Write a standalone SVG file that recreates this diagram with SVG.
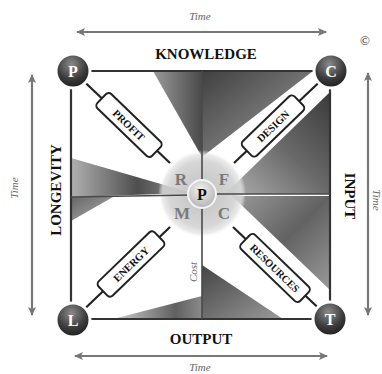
<svg xmlns="http://www.w3.org/2000/svg" width="382" height="374" viewBox="0 0 382 374">
<style>
.t{font-family:"Liberation Serif","DejaVu Serif",serif;font-weight:bold;fill:#111;text-anchor:middle}
.time{font-family:"Liberation Serif","DejaVu Serif",serif;font-style:italic;font-size:11px;fill:#666;text-anchor:middle}
.lbl{font-family:"Liberation Serif","DejaVu Serif",serif;font-weight:bold;font-size:10.5px;fill:#111;text-anchor:middle}
.box{fill:#fff;stroke:#222;stroke-width:2}
.corner{fill:url(#gCorner);stroke:#fff;stroke-width:3}
.cl{font-family:"Liberation Serif","DejaVu Serif",serif;font-weight:bold;font-size:16px;fill:#fff;text-anchor:middle}
.sec{font-family:"Liberation Serif","DejaVu Serif",serif;font-weight:bold;font-size:17px;fill:#7a7a7a;text-anchor:middle}
.edge{stroke:#333;stroke-width:2.2;fill:none}
.mid{stroke:#4a4a4a;stroke-width:1.6;fill:none}
.diag{stroke:#222;stroke-width:2.2;fill:none}
.arr{stroke:#777;stroke-width:2.2;fill:none;marker-start:url(#ah);marker-end:url(#ah)}
</style>
<defs>
<marker id="ah" markerUnits="userSpaceOnUse" markerWidth="10" markerHeight="10" refX="8" refY="5" orient="auto-start-reverse">
<path d="M0,1 L9,5 L0,9 L2,5 Z" fill="#777"/>
</marker>
<linearGradient id="gTop" x1="0" y1="0" x2="1" y2="0"><stop offset="0" stop-color="#9a9a9a"/><stop offset="1" stop-color="#4a4a4a"/></linearGradient>
<linearGradient id="gTR" x1="0" y1="0" x2="1" y2="1"><stop offset="0" stop-color="#404040"/><stop offset="0.6" stop-color="#7a7a7a"/><stop offset="1" stop-color="#a8a8a8"/></linearGradient>
<linearGradient id="gRU" x1="1" y1="0" x2="0" y2="1"><stop offset="0" stop-color="#3a3a3a"/><stop offset="0.5" stop-color="#6a6a6a"/><stop offset="1" stop-color="#b0b0b0"/></linearGradient>
<linearGradient id="gRL" x1="0" y1="0" x2="1" y2="1"><stop offset="0" stop-color="#9a9a9a"/><stop offset="0.5" stop-color="#626262"/><stop offset="1" stop-color="#9a9a9a"/></linearGradient>
<linearGradient id="gBR" x1="0" y1="0" x2="1" y2="1"><stop offset="0" stop-color="#444"/><stop offset="1" stop-color="#9a9a9a"/></linearGradient>
<linearGradient id="gBL" x1="0" y1="0" x2="1" y2="0"><stop offset="0" stop-color="#d0d0d0"/><stop offset="0.7" stop-color="#606060"/><stop offset="1" stop-color="#8a8a8a"/></linearGradient>
<linearGradient id="gLU" x1="0" y1="0" x2="1" y2="0"><stop offset="0" stop-color="#b0b0b0"/><stop offset="0.55" stop-color="#4e4e4e"/><stop offset="1" stop-color="#9a9a9a"/></linearGradient>
<linearGradient id="gLL" x1="0" y1="0" x2="1" y2="1"><stop offset="0" stop-color="#666"/><stop offset="1" stop-color="#b0b0b0"/></linearGradient>
<radialGradient id="gCorner" cx="0.45" cy="0.3" r="0.75"><stop offset="0" stop-color="#8a8a8a"/><stop offset="0.6" stop-color="#3a3a3a"/><stop offset="1" stop-color="#1a1a1a"/></radialGradient>
<radialGradient id="gHalo" cx="0.5" cy="0.5" r="0.5"><stop offset="0" stop-color="#bcbcbc" stop-opacity="0.95"/><stop offset="0.75" stop-color="#d2d2d2" stop-opacity="0.9"/><stop offset="0.9" stop-color="#e4e4e4" stop-opacity="0.75"/><stop offset="1" stop-color="#ffffff" stop-opacity="0"/></radialGradient>
<radialGradient id="gCenter" cx="0.45" cy="0.35" r="0.7"><stop offset="0" stop-color="#f2f2f2"/><stop offset="1" stop-color="#b0b0b0"/></radialGradient>
</defs>
<rect width="382" height="374" fill="#fff"/>

<g id="shading">
<polygon points="153,71 202,71 202,157" fill="url(#gTop)"/>
<polygon points="202,71 313,71 202,157" fill="url(#gTR)"/>
<polygon points="330,92 330,194 225,194" fill="url(#gRU)"/>
<polygon points="232,196 330,196 330,290" fill="url(#gRL)"/>
<polygon points="202,265 202,319 283,319" fill="url(#gBR)"/>
<polygon points="113,319 202,296 202,319" fill="url(#gBL)"/>
<polygon points="71,158 192,193 71,197" fill="url(#gLU)"/>
<polygon points="71,197 113,197 71,221" fill="url(#gLL)"/>
</g>

<g id="halo"><circle cx="202" cy="194" r="44" fill="url(#gHalo)"/></g>

<g id="connectors">
<line class="edge" x1="73" y1="71" x2="331" y2="71"/>
<line class="edge" x1="71" y1="71" x2="71" y2="320"/>
<line class="edge" x1="330" y1="71" x2="330" y2="320"/>
<line class="edge" x1="73" y1="319" x2="331" y2="319"/>
<line class="mid" x1="202" y1="71" x2="202" y2="319"/>
<line class="mid" x1="71" y1="197" x2="192" y2="195"/>
<line class="mid" x1="212" y1="194" x2="330" y2="194"/>
<line class="diag" x1="73" y1="71" x2="170" y2="163"/>
<line class="diag" x1="331" y1="71" x2="234" y2="163"/>
<line class="diag" x1="73" y1="320" x2="170" y2="227"/>
<line class="diag" x1="330" y1="319" x2="233" y2="227"/>
<line class="arr" x1="77" y1="32" x2="326" y2="32"/>
<line class="arr" x1="75" y1="356" x2="327" y2="356"/>
<line class="arr" x1="32" y1="75" x2="32" y2="315"/>
<line class="arr" x1="368" y1="73" x2="368" y2="315"/>
</g>

<g id="sectors">
<text class="sec" x="181" y="185">R</text>
<text class="sec" x="224" y="185">F</text>
<text class="sec" x="182" y="219">M</text>
<text class="sec" x="224" y="219">C</text>
</g>

<g id="center-p"><circle cx="202" cy="194" r="14" fill="url(#gCenter)" stroke="#f4f4f4" stroke-width="2"/><text class="t" x="202" y="200" font-size="16">P</text></g>

<g id="profit" transform="translate(129,125) rotate(44)"><rect class="box" x="-38" y="-10" width="76" height="20" rx="4"/><text class="lbl" y="4">PROFIT</text></g>
<g id="design" transform="translate(273,126) rotate(-44)"><rect class="box" x="-36" y="-10" width="72" height="20" rx="4"/><text class="lbl" y="4">DESIGN</text></g>
<g id="energy" transform="translate(131,264) rotate(-44)"><rect class="box" x="-39" y="-10" width="78" height="20" rx="4"/><text class="lbl" y="4">ENERGY</text></g>
<g id="resources" transform="translate(275,268) rotate(44)"><rect class="box" x="-41" y="-10" width="82" height="20" rx="4"/><text class="lbl" y="4">RESOURCES</text></g>

<g id="node-p"><circle class="corner" cx="73" cy="71" r="17"/><text class="cl" x="73" y="77">P</text></g>
<g id="node-c"><circle class="corner" cx="331" cy="71" r="17"/><text class="cl" x="331" y="77">C</text></g>
<g id="node-l"><circle class="corner" cx="73" cy="320" r="17"/><text class="cl" x="73" y="326">L</text></g>
<g id="node-t"><circle class="corner" cx="330" cy="319" r="17"/><text class="cl" x="330" y="325">T</text></g>

<g id="titles">
<text class="t" x="206" y="59" font-size="15">KNOWLEDGE</text>
<text class="t" x="201" y="344" font-size="15">OUTPUT</text>
<text class="t" font-size="15" transform="translate(61,190) rotate(-90)">LONGEVITY</text>
<text class="t" font-size="15" transform="translate(345,196) rotate(90)">INPUT</text>
<text class="time" x="200" y="20">Time</text>
<text class="time" x="200" y="371">Time</text>
<text class="time" transform="translate(18,188) rotate(-90)">Time</text>
<text class="time" transform="translate(373,200) rotate(90)">Time</text>
<text class="time" transform="translate(197,272) rotate(-90)">Cost</text>
<text x="365" y="45" font-family="Liberation Serif, serif" font-size="13" fill="#222" text-anchor="middle">©</text>
</g>
</svg>
